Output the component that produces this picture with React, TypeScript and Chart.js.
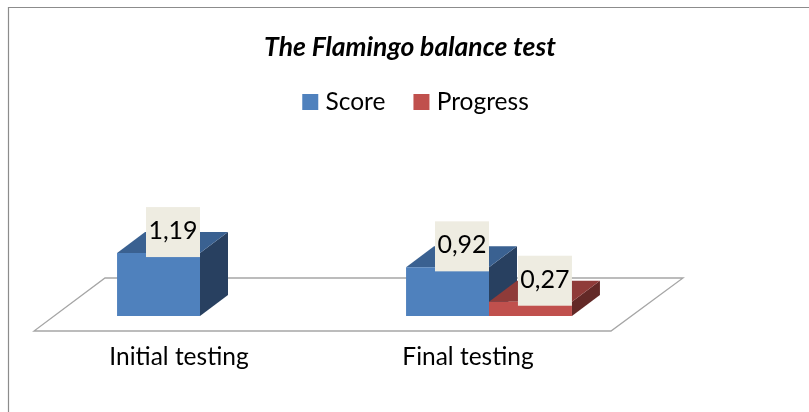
import React, { useEffect, useRef } from "react";
import { Chart, registerables } from "chart.js";

Chart.register(...registerables);

const categories = ["Initial testing", "Final testing"];
const scoreValues = [1.19, 0.92];
const progressValues = [null, 0.27];
const seriesNames = ["Score", "Progress"];
const chartTitle = "The Flamingo balance test";

const FRONT = ["#4F81BD", "#C0504D"];
const TOP = ["#3A6191", "#8F3B39"];
const SIDE = ["#284060", "#632927"];
const DX = 28;
const DY = 21;
const FONT = "Lato, Carlito, sans-serif";
const LEGEND_SHIFT = 8;

const decor = {
  id: "decor",
  afterLayout(chart: any) {
    chart.legend.left += LEGEND_SHIFT;
    chart.legend.right += LEGEND_SHIFT;
  },
  beforeDatasetsDraw(chart: any) {
    const { ctx, chartArea: a } = chart;
    const base = chart.scales.y.getPixelForValue(0);
    ctx.save();
    // outer frame
    ctx.strokeStyle = "#8C8C8C";
    ctx.lineWidth = 1.2;
    ctx.beginPath();
    ctx.moveTo(8.5, 412);
    ctx.lineTo(8.5, 7.5);
    ctx.lineTo(809, 7.5);
    ctx.stroke();
    // floor
    const fl = a.left - 21.5;
    const fr = a.right - 22.5;
    const yf = base + 15;
    const yb = base - 38;
    ctx.strokeStyle = "#A6A6A6";
    ctx.lineWidth = 1.3;
    ctx.beginPath();
    ctx.moveTo(fl, yf);
    ctx.lineTo(fr, yf);
    ctx.lineTo(fr + 72, yb);
    ctx.lineTo(fl + 71, yb);
    ctx.closePath();
    ctx.stroke();
    // 3D faces
    [0, 1].forEach((d) => {
      chart.getDatasetMeta(d).data.forEach((bar: any, i: number) => {
        const v = chart.data.datasets[d].data[i];
        if (v == null) return;
        const half = bar.width / 2;
        const l = bar.x - half;
        const r = bar.x + half;
        const t = bar.y;
        ctx.fillStyle = SIDE[d];
        ctx.beginPath();
        ctx.moveTo(r, t);
        ctx.lineTo(r + DX, t - DY);
        ctx.lineTo(r + DX, base - DY);
        ctx.lineTo(r, base);
        ctx.closePath();
        ctx.fill();
        ctx.fillStyle = TOP[d];
        ctx.beginPath();
        ctx.moveTo(l, t);
        ctx.lineTo(l + DX, t - DY);
        ctx.lineTo(r + DX, t - DY);
        ctx.lineTo(r, t);
        ctx.closePath();
        ctx.fill();
      });
    });
    ctx.restore();
  },
  afterDatasetsDraw(chart: any) {
    const { ctx } = chart;
    ctx.save();
    ctx.font = `25px ${FONT}`;
    ctx.textAlign = "center";
    ctx.textBaseline = "middle";
    [0, 1].forEach((d) => {
      chart.getDatasetMeta(d).data.forEach((bar: any, i: number) => {
        const v = chart.data.datasets[d].data[i];
        if (v == null) return;
        const r = bar.x + bar.width / 2;
        const w = 54;
        const h = 50;
        const top = bar.y - 46;
        ctx.fillStyle = "#EEECE1";
        ctx.fillRect(r - w, top, w, h);
        ctx.fillStyle = "#000000";
        ctx.fillText(v.toFixed(2).replace(".", ","), r - w / 2, top + h / 2 - 1);
      });
    });
    ctx.restore();
  },
};

export default function App() {
  const ref = useRef<HTMLCanvasElement>(null);
  useEffect(() => {
    const chart = new Chart(ref.current as HTMLCanvasElement, {
      type: "bar",
      data: {
        labels: categories,
        datasets: [
          { label: seriesNames[0], data: scoreValues, backgroundColor: FRONT[0] },
          { label: seriesNames[1], data: progressValues, backgroundColor: FRONT[1] },
        ],
      },
      plugins: [decor],
      options: {
        responsive: false,
        animation: false,
        layout: { padding: { left: 11, right: 0, top: 0, bottom: 0 } },
        categoryPercentage: 0.574,
        barPercentage: 1,
        scales: {
          x: {
            grid: { display: false },
            border: { display: false },
            ticks: {
              color: "#000000",
              font: { family: FONT, size: 24.5 },
              padding: 18,
              labelOffset: -21,
              maxRotation: 0,
              autoSkip: false,
            },
            afterFit(s: any) {
              s.height = 96;
            },
          },
          y: {
            min: 0,
            max: 3.625,
            grid: { display: false },
            border: { display: false },
            ticks: { display: false },
            afterFit(s: any) {
              s.width = 44.5;
            },
          },
          y2: {
            type: "linear",
            position: "right",
            min: 0,
            max: 1,
            grid: { display: false },
            border: { display: false },
            ticks: { display: false },
            afterFit(s: any) {
              s.width = 175.5;
            },
          },
        },
        plugins: {
          title: {
            display: true,
            text: chartTitle,
            color: "#000000",
            font: { family: FONT, size: 26.5, weight: "bold", style: "italic" },
            padding: { top: 32, bottom: -7 },
          },
          legend: {
            display: true,
            position: "top",
            labels: {
              boxWidth: 6,
              boxHeight: 6,
              color: "#000000",
              font: { family: FONT, size: 24.5 },
              padding: 33,
              generateLabels: () =>
                seriesNames.map((text, i) => ({
                  text,
                  fillStyle: FRONT[i],
                  strokeStyle: FRONT[i],
                  lineWidth: 10,
                  lineJoin: "miter",
                  fontColor: "#000000",
                  datasetIndex: i,
                })),
            },
          },
          tooltip: { enabled: false },
        },
      } as any,
    });
    return () => chart.destroy();
  }, []);
  return (
    <canvas
      ref={ref}
      width={809}
      height={412}
      style={{ position: "absolute", left: 0, top: 0, display: "block" }}
    />
  );
}
